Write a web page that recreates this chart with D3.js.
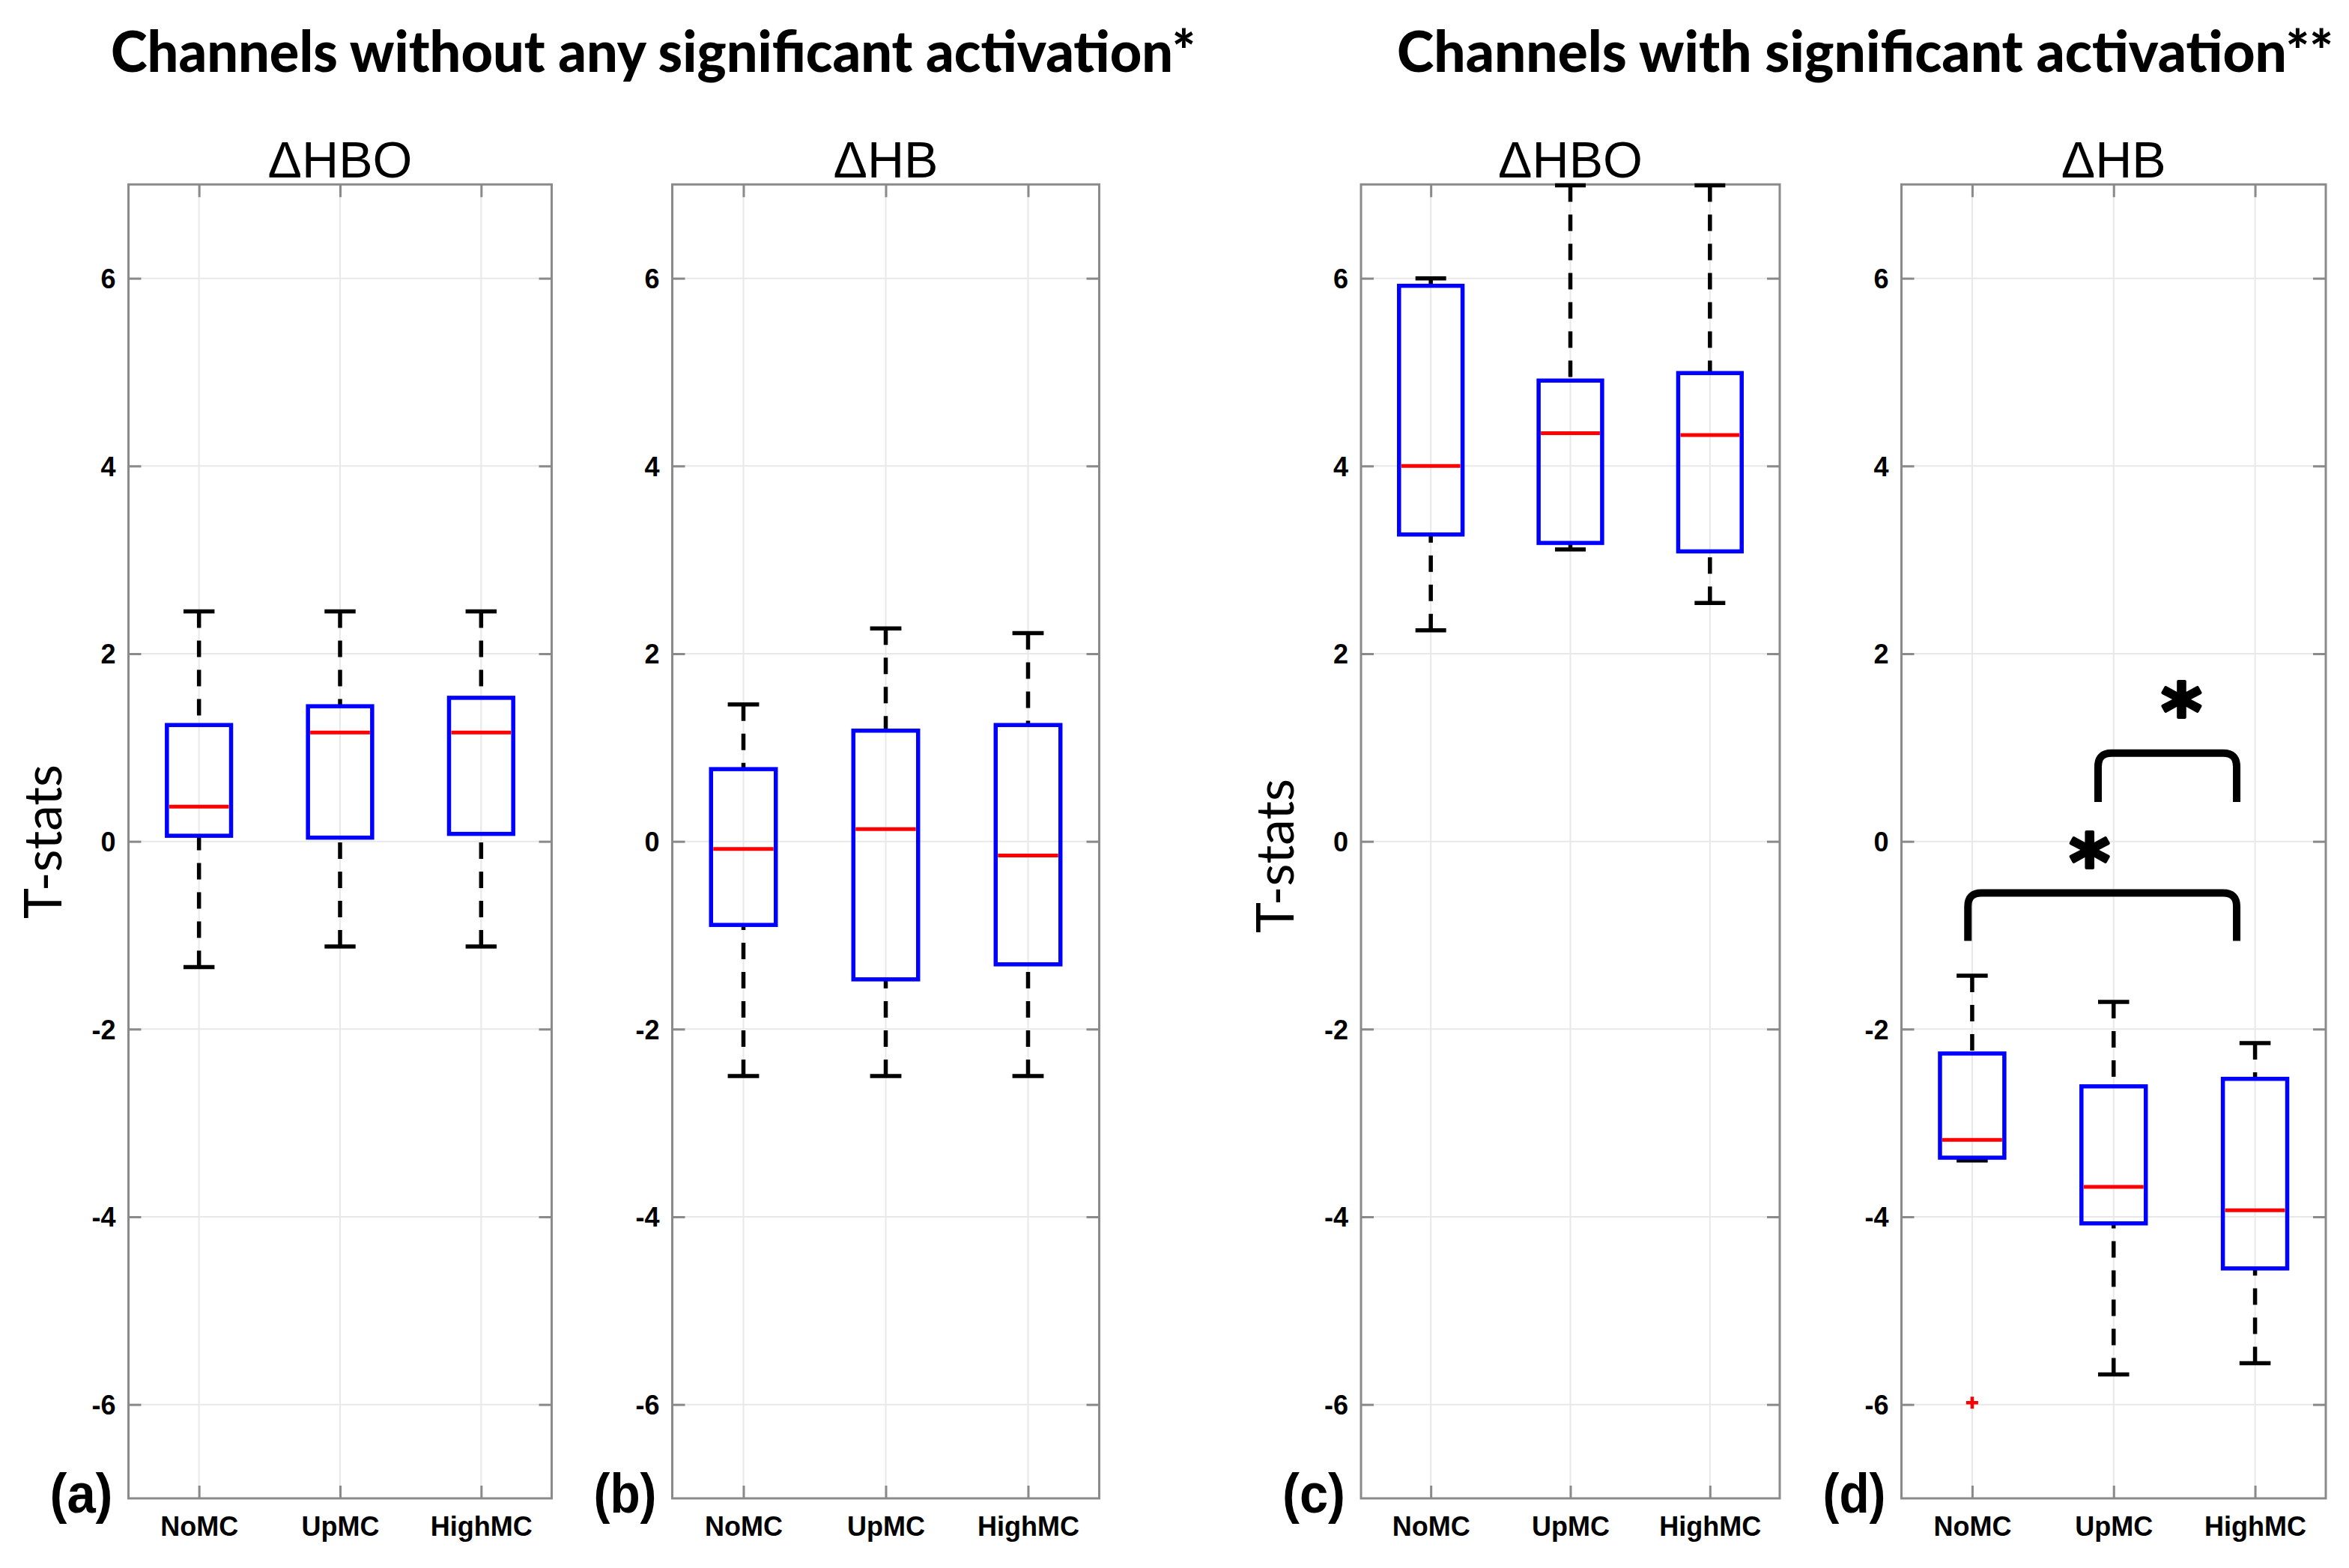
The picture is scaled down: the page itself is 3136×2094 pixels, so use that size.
<!DOCTYPE html>
<html><head><meta charset="utf-8">
<script src="https://cdn.jsdelivr.net/npm/d3@7/dist/d3.min.js"></script>
<style>html,body{margin:0;padding:0;background:#fff;}svg{display:block;}</style>
</head><body>
<svg id="c" width="3136" height="2094"></svg>
<script>
// ---------- data ----------
const categories = ["NoMC", "UpMC", "HighMC"];
const yTicks = [-6, -4, -2, 0, 2, 4, 6];
const groupTitles = ["Channels without any significant activation*", "Channels with significant activation**"];
const panelTitles = ["\u0394HBO", "\u0394HB", "\u0394HBO", "\u0394HB"];
const panelLetters = ["(a)", "(b)", "(c)", "(d)"];
const yLabel = "T-stats";
// each box: [lower whisker, Q1, median, Q3, upper whisker]
const statsA = [[-1.34, 0.06, 0.37, 1.24, 2.45], [-1.12, 0.04, 1.16, 1.44, 2.45], [-1.12, 0.08, 1.16, 1.53, 2.45]];
const statsB = [[-2.50, -0.89, -0.08, 0.77, 1.46], [-2.50, -1.47, 0.13, 1.18, 2.27], [-2.50, -1.31, -0.15, 1.24, 2.22]];
const statsC = [[2.25, 3.27, 4.00, 5.92, 6.00], [3.11, 3.18, 4.35, 4.91, 6.99], [2.54, 3.09, 4.33, 4.99, 6.99]];
const statsD = [[-3.40, -3.37, -3.18, -2.26, -1.43], [-5.68, -4.07, -3.68, -2.61, -1.71], [-5.56, -4.55, -3.93, -2.53, -2.15]];
const outliersD = [[-5.98], [], []];
// significance brackets in panel (d): x from, x to (category units), top value, leg end value, star position
const bracketsD = [
  {x1: 1.89, x2: 2.87, top: 0.94, leg: 0.42, sx: 2.48, sy: 1.46},
  {x1: 0.97, x2: 2.87, top: -0.55, leg: -1.06, sx: 1.83, sy: -0.15}
];

// ---------- layout ----------
const svg = d3.select("#c");
const panels = [
  {left: 171.5, right: 736.5, stats: statsA, out: [[], [], []], br: [], ylab: true, ylabY: 1124},
  {left: 897.5, right: 1467.5, stats: statsB, out: [[], [], []], br: [], ylab: false},
  {left: 1817, right: 2376, stats: statsC, out: [[], [], []], br: [], ylab: true, ylabY: 1143},
  {left: 2538.5, right: 3105, stats: statsD, out: outliersD, br: bracketsD, ylab: false}
];
const plotTop = 246.3, plotBottom = 2001;
const y = d3.scaleLinear().domain([-7, 7]).range([plotBottom, plotTop]);
const axisColor = "#8a8a8a";
const gridColor = "#e8e8e8";

// group titles
svg.append("text").attr("x", 148).attr("y", 96).attr("font-family", "Lato, 'Open Sans', sans-serif")
  .attr("font-weight", 900).attr("font-size", 76).attr("textLength", 1448).attr("lengthAdjust", "spacingAndGlyphs")
  .text(groupTitles[0]);
svg.append("text").attr("x", 1865).attr("y", 96).attr("font-family", "Lato, 'Open Sans', sans-serif")
  .attr("font-weight", 900).attr("font-size", 76).attr("textLength", 1250).attr("lengthAdjust", "spacingAndGlyphs")
  .text(groupTitles[1]);

panels.forEach((p, i) => {
  const x = d3.scaleLinear().domain([0.5, 3.5]).range([p.left, p.right]);
  const g = svg.append("g");
  // grid
  g.selectAll(".gy").data(yTicks).join("line")
    .attr("x1", p.left).attr("x2", p.right).attr("y1", d => y(d)).attr("y2", d => y(d))
    .attr("stroke", gridColor).attr("stroke-width", 2);
  g.selectAll(".gx").data(categories).join("line")
    .attr("x1", (d, k) => x(k + 1)).attr("x2", (d, k) => x(k + 1)).attr("y1", plotTop).attr("y2", plotBottom)
    .attr("stroke", gridColor).attr("stroke-width", 2);

  // axes via d3
  const yAxisL = d3.axisLeft(y).tickValues(yTicks).tickSize(-17).tickPadding(17).tickFormat(d => String(d));
  const ga = g.append("g").attr("transform", `translate(${p.left},0)`).call(yAxisL);
  ga.select(".domain").remove();
  ga.selectAll("line").attr("stroke", axisColor).attr("stroke-width", 3);
  ga.selectAll("text").attr("font-family", "'Liberation Sans', Arial, sans-serif").attr("font-weight", 700)
    .attr("font-size", 36).attr("fill", "#000").attr("dy", "0.36em");
  const gr = g.append("g").attr("transform", `translate(${p.right},0)`)
    .call(d3.axisRight(y).tickValues(yTicks).tickSize(-17).tickFormat(""));
  gr.select(".domain").remove();
  gr.selectAll("line").attr("stroke", axisColor).attr("stroke-width", 3);
  const xb = d3.axisBottom(x).tickValues([1, 2, 3]).tickSize(-17).tickPadding(24).tickFormat(d => categories[d - 1]);
  const gb = g.append("g").attr("transform", `translate(0,${plotBottom})`).call(xb);
  gb.select(".domain").remove();
  gb.selectAll("line").attr("stroke", axisColor).attr("stroke-width", 3);
  gb.selectAll("text").attr("font-family", "'Liberation Sans', Arial, sans-serif").attr("font-weight", 700)
    .attr("font-size", 36).attr("fill", "#000").attr("dy", "0.71em");
  const gt = g.append("g").attr("transform", `translate(0,${plotTop})`)
    .call(d3.axisTop(x).tickValues([1, 2, 3]).tickSize(-17).tickFormat(""));
  gt.select(".domain").remove();
  gt.selectAll("line").attr("stroke", axisColor).attr("stroke-width", 3);
  // frame
  g.append("rect").attr("x", p.left).attr("y", plotTop).attr("width", p.right - p.left).attr("height", plotBottom - plotTop)
    .attr("fill", "none").attr("stroke", axisColor).attr("stroke-width", 3);

  // boxes
  const bw = 0.455, cw = 0.22;
  p.stats.forEach((s, k) => {
    const c = k + 1;
    const bx = g.append("g");
    [[s[3], s[4]], [s[1], s[0]]].forEach(([a, b]) => {
      bx.append("line").attr("x1", x(c)).attr("x2", x(c)).attr("y1", y(b)).attr("y2", y(a))
        .attr("stroke", "#000").attr("stroke-width", 5.5).attr("stroke-dasharray", "22,17");
      bx.append("line").attr("x1", x(c - cw / 2)).attr("x2", x(c + cw / 2)).attr("y1", y(b)).attr("y2", y(b))
        .attr("stroke", "#000").attr("stroke-width", 5.5);
    });
    bx.append("rect").attr("x", x(c - bw / 2)).attr("width", x(c + bw / 2) - x(c - bw / 2))
      .attr("y", y(s[3])).attr("height", y(s[1]) - y(s[3]))
      .attr("fill", "none").attr("stroke", "#0000ff").attr("stroke-width", 5.5);
    bx.append("line").attr("x1", x(c - bw / 2) + 3).attr("x2", x(c + bw / 2) - 3).attr("y1", y(s[2])).attr("y2", y(s[2]))
      .attr("stroke", "#ff0000").attr("stroke-width", 5);
    p.out[k].forEach(o => {
      bx.append("path").attr("d", `M${x(c) - 8},${y(o)}h16M${x(c)},${y(o) - 8}v16`)
        .attr("stroke", "#ff0000").attr("stroke-width", 4.5);
    });
  });

  // brackets
  p.br.forEach(b => {
    const x1 = x(b.x1), x2 = x(b.x2), yt = y(b.top), yl = y(b.leg), r = 18;
    g.append("path").attr("d", `M${x1},${yl}L${x1},${yt + r}Q${x1},${yt} ${x1 + r},${yt}L${x2 - r},${yt}Q${x2},${yt} ${x2},${yt + r}L${x2},${yl}`)
      .attr("fill", "none").attr("stroke", "#000").attr("stroke-width", 10);
    g.append("text").attr("x", x(b.sx)).attr("y", y(b.sy) + 46).attr("text-anchor", "middle")
      .attr("font-family", "'DejaVu Sans', sans-serif").attr("font-weight", 700).attr("font-size", 104)
      .attr("stroke", "#000").attr("stroke-width", 4).attr("stroke-linejoin", "round").text("*");
  });

  // panel title
  svg.append("text").attr("x", (p.left + p.right) / 2).attr("y", 237).attr("text-anchor", "middle")
    .attr("font-family", "'Liberation Sans', Arial, sans-serif").attr("font-size", 68).text(panelTitles[i]);
  // letter
  svg.append("text").attr("x", p.left - 21).attr("y", 2020).attr("text-anchor", "end")
    .attr("font-family", "'Liberation Sans', Arial, sans-serif").attr("font-weight", 700).attr("font-size", 74)
    .attr("textLength", 84).attr("lengthAdjust", "spacingAndGlyphs").text(panelLetters[i]);
  // y label
  if (p.ylab) {
    const lx = p.left - 90;
    svg.append("text").attr("transform", `translate(${lx},${p.ylabY}) rotate(-90)`).attr("text-anchor", "middle")
      .attr("font-family", "Lato, 'Open Sans', sans-serif").attr("font-size", 70)
      .attr("textLength", 206).attr("lengthAdjust", "spacingAndGlyphs").text(yLabel);
  }
});
</script>
</body></html>
